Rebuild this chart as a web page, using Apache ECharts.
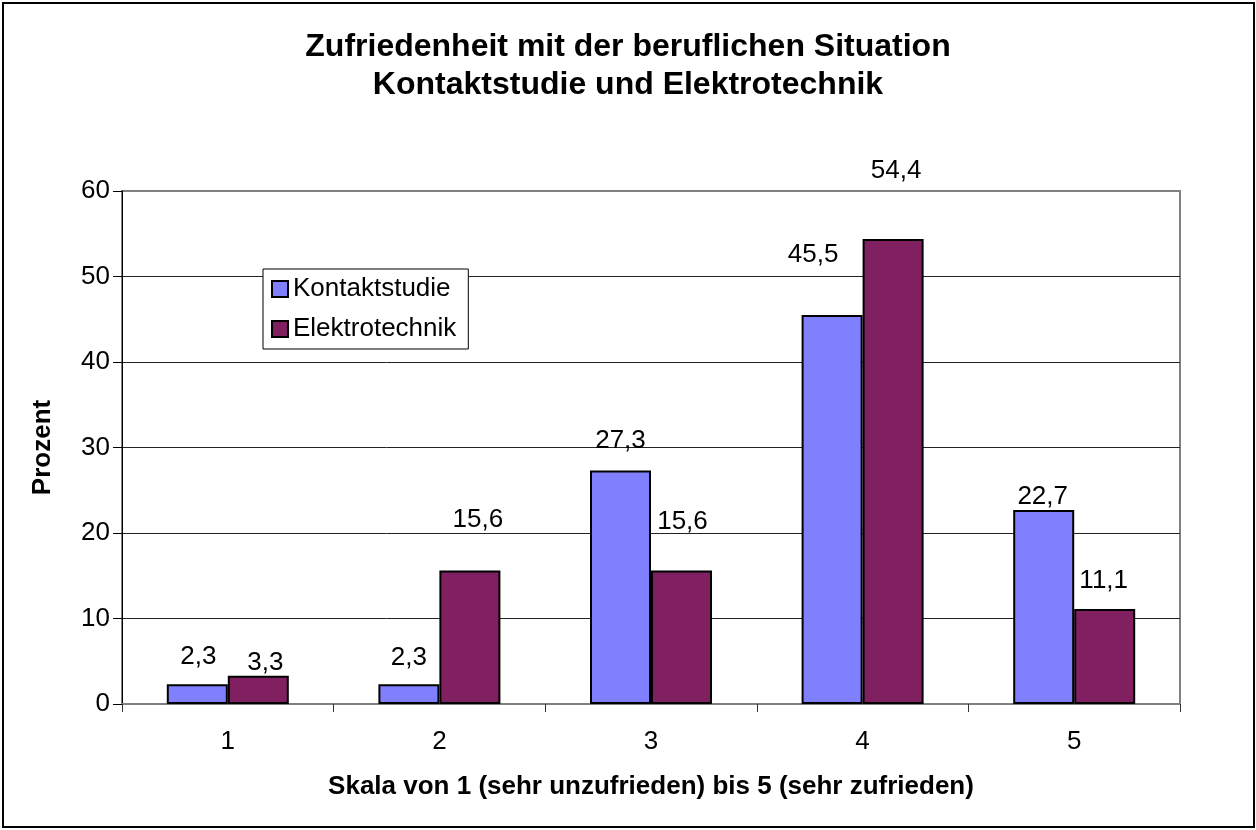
<!DOCTYPE html>
<html>
<head>
<meta charset="utf-8">
<script src="https://cdn.jsdelivr.net/npm/echarts@6/dist/echarts.min.js"></script>
<style>
  html, body { margin: 0; padding: 0; background: #fff; }
  #chart { width: 1256px; height: 830px; }
</style>
</head>
<body>
<div id="chart"></div>
<script>
const categories = ['1', '2', '3', '4', '5']
const kontaktstudie = [2.3, 2.3, 27.3, 45.5, 22.7]
const elektrotechnik = [3.3, 15.6, 15.6, 54.4, 11.1]
const yTicks = [0, 10, 20, 30, 40, 50, 60]

// labels were dragged around by hand in the original, so nudge each one
const kontaktLabelShift = [[1, -15], [0, -14], [0, -17], [-19, -47], [-1, 0]]
const elektroLabelShift = [[7, 0], [8, -38], [1, -36], [3, -55], [-1, -15]]

const font = "'Liberation Sans', Arial, sans-serif"
const chart = echarts.init(document.getElementById('chart'))

function withLabels(values, shifts) {
  return values.map((v, i) => ({
    value: v,
    label: { offset: shifts[i] }
  }))
}

const barLabel = {
  show: true,
  position: 'top',
  distance: 0,
  color: '#000',
  fontSize: 26,
  fontFamily: font,
  formatter: p => String(p.value).replace('.', ',')
}

chart.setOption({
  animation: false,
  backgroundColor: '#fff',
  textStyle: { fontFamily: font },
  title: {
    text: 'Zufriedenheit mit der beruflichen Situation\nKontaktstudie und Elektrotechnik',
    left: 'center',
    top: 28,
    padding: 0,
    textStyle: {
      fontSize: 32,
      fontWeight: 'bold',
      color: '#000',
      lineHeight: 38,
      fontFamily: font
    }
  },
  graphic: [{
    type: 'rect',
    shape: { x: 3, y: 3, width: 1251, height: 824 },
    style: { fill: 'none', stroke: '#000', lineWidth: 2 },
    silent: true
  }],
  legend: {
    orient: 'vertical',
    left: 263,
    top: 269,
    padding: [7, 12, 7, 8],
    itemGap: 14,
    itemWidth: 16,
    itemHeight: 16,
    icon: 'rect',
    borderColor: '#000',
    borderWidth: 1,
    backgroundColor: '#fff',
    textStyle: { fontSize: 26, color: '#000', fontFamily: font },
    data: ['Kontaktstudie', 'Elektrotechnik']
  },
  grid: {
    left: 122,
    right: 76,
    top: 191,
    bottom: 126,
    show: true,
    borderColor: '#808080',
    borderWidth: 2
  },
  xAxis: {
    type: 'category',
    data: categories,
    name: 'Skala von 1 (sehr unzufrieden) bis 5 (sehr zufrieden)',
    nameLocation: 'middle',
    nameGap: 70,
    nameTextStyle: { fontSize: 26, fontWeight: 'bold', color: '#000' },
    axisLine: { lineStyle: { color: '#808080', width: 2 } },
    axisTick: { show: true, alignWithLabel: false, length: 8, lineStyle: { color: '#333' } },
    axisLabel: { fontSize: 26, color: '#000', margin: 25 },
    splitLine: { show: false }
  },
  yAxis: {
    type: 'value',
    min: yTicks[0],
    max: yTicks[yTicks.length - 1],
    interval: 10,
    name: 'Prozent',
    nameLocation: 'middle',
    nameGap: 66,
    nameTextStyle: { fontSize: 26, fontWeight: 'bold', color: '#000' },
    axisLine: { show: true, lineStyle: { color: '#000', width: 1 } },
    axisTick: { show: true, length: 9, lineStyle: { color: '#000' } },
    axisLabel: { fontSize: 26, color: '#000', margin: 12 },
    splitLine: {
      show: true,
      showMinLine: false,
      showMaxLine: false,
      lineStyle: { color: '#222', width: 1 }
    }
  },
  series: [
    {
      name: 'Kontaktstudie',
      type: 'bar',
      barWidth: 61,
      barGap: '0%',
      data: withLabels(kontaktstudie, kontaktLabelShift),
      itemStyle: { color: '#8080ff', borderColor: '#000', borderWidth: 2 },
      label: barLabel
    },
    {
      name: 'Elektrotechnik',
      type: 'bar',
      barWidth: 61,
      barGap: '0%',
      data: withLabels(elektrotechnik, elektroLabelShift),
      itemStyle: { color: '#802060', borderColor: '#000', borderWidth: 2 },
      label: barLabel
    }
  ]
})
</script>
</body>
</html>
